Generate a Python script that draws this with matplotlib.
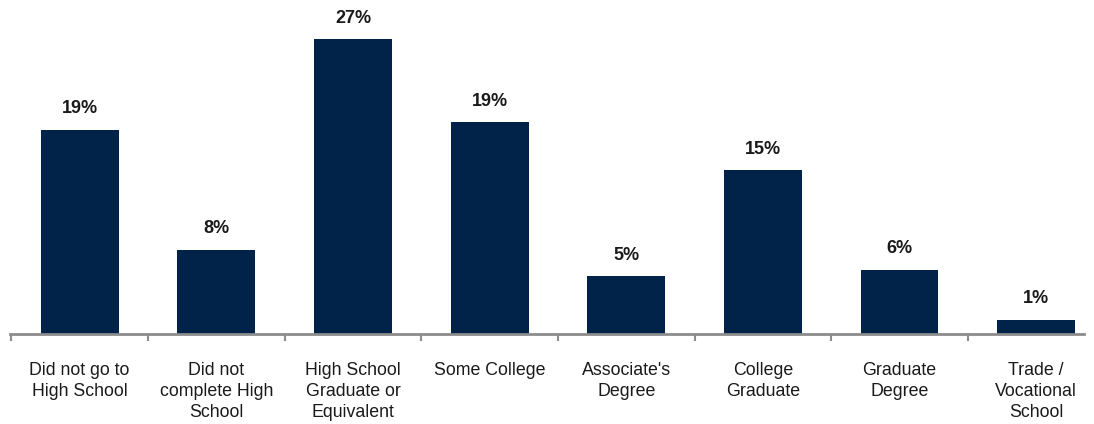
import numpy as np
import matplotlib.pyplot as plt

plt.rcParams['font.family'] = ['Liberation Sans', 'DejaVu Sans']

categories = ["Did not go to\nHigh School", "Did not\ncomplete High\nSchool",
              "High School\nGraduate or\nEquivalent", "Some College",
              "Associate's\nDegree", "College\nGraduate", "Graduate\nDegree",
              "Trade /\nVocational\nSchool"]
values = [18.7, 7.7, 27.0, 19.4, 5.3, 15.0, 5.9, 1.3]
labels = ["19%", "8%", "27%", "19%", "5%", "15%", "6%", "1%"]

BAR = "#012349"

fig = plt.figure(figsize=(10.94, 4.24), dpi=100)
ax = fig.add_axes([10/1094, 90/424, 1074/1094, 334/424])

x = np.arange(len(categories))
bars = ax.bar(x, values, width=0.57, color=BAR)

for b, lab in zip(bars, labels):
    ax.annotate(lab, (b.get_x() + b.get_width()/2, b.get_height()),
                xytext=(0, 9), textcoords='offset points',
                ha='center', va='bottom', fontsize=13, fontweight='bold',
                color='#1a1a1a')

ax.set_xticks(x)
ax.set_xticklabels(categories, fontsize=12.8, color='#1a1a1a', linespacing=1.33)
ax.set_xticks(np.arange(-0.5, len(categories), 1.0), minor=True)
ax.tick_params(axis='x', which='major', length=0, pad=20)
ax.tick_params(axis='x', which='minor', length=5, width=1.5, color='#8c8c8c')
ax.set_yticks([])
# limits after ticks so the tick setter does not widen the view
ax.set_xlim(-0.51, 7.35)
ax.set_ylim(0, 30.6)
for s in ['top', 'right', 'left']:
    ax.spines[s].set_visible(False)
ax.spines['bottom'].set_color('#8c8c8c')
ax.spines['bottom'].set_linewidth(2)

fig.savefig("out.png", dpi=100)
